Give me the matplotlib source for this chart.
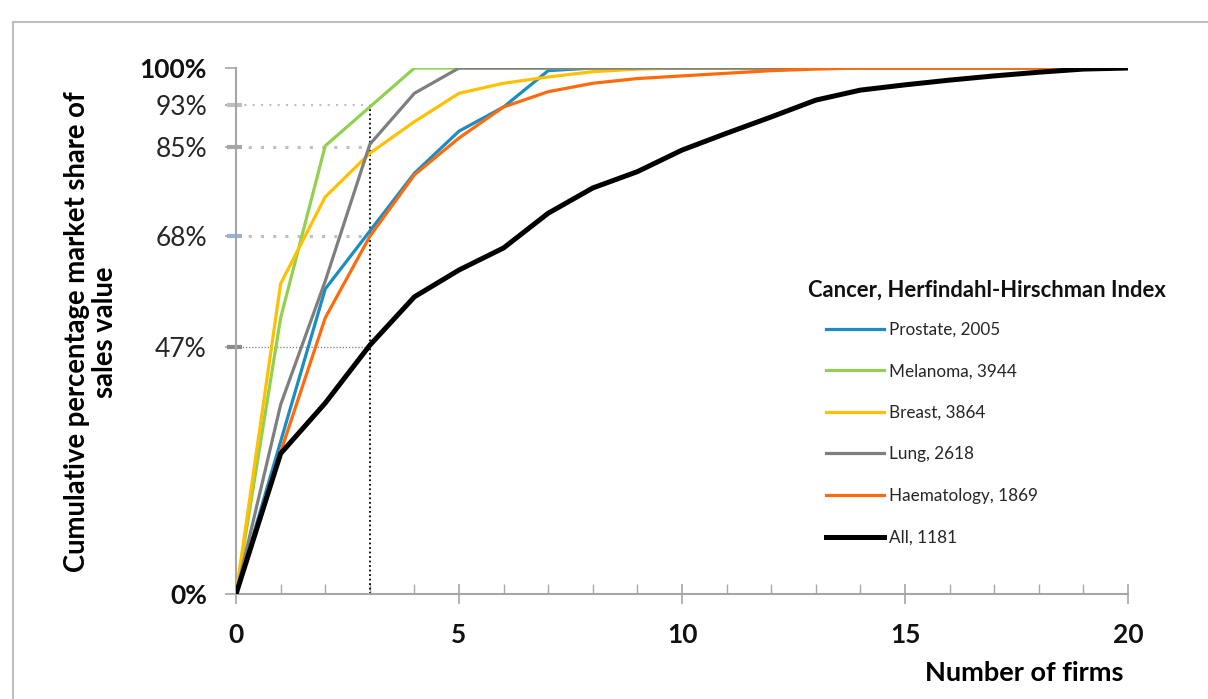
import matplotlib
matplotlib.use('Agg')
import matplotlib.pyplot as plt
from matplotlib.lines import Line2D
from matplotlib.ticker import MultipleLocator
from matplotlib.transforms import blended_transform_factory

plt.rcParams['font.family'] = ['Lato', 'DejaVu Sans']

firms = list(range(0, 21))
prostate = [0, 29, 58, 69, 80, 88, 92.6, 99.5, 100, 100, 100, 100, 100, 100, 100, 100, 100, 100, 100, 100, 100]
melanoma = [0, 52.5, 85.2, 92.6, 100, 100, 100, 100, 100, 100, 100, 100, 100, 100, 100, 100, 100, 100, 100, 100, 100]
breast = [0, 59, 75.5, 83.8, 89.8, 95.2, 97.1, 98.3, 99.3, 99.8, 100, 100, 100, 100, 100, 100, 100, 100, 100, 100, 100]
lung = [0, 36, 59.5, 85.5, 95.2, 100, 100, 100, 100, 100, 100, 100, 100, 100, 100, 100, 100, 100, 100, 100, 100]
haem = [0, 27, 52.5, 68, 79.7, 86.7, 92.6, 95.5, 97.1, 98, 98.5, 99, 99.5, 99.8, 100, 100, 100, 100, 100, 100, 100]
all_firms = [0, 26.7, 36.3, 47.3, 56.5, 61.6, 65.8, 72.4, 77.2, 80.3, 84.4, 87.6, 90.7, 93.9, 95.8, 96.8, 97.7, 98.5, 99.2, 99.8, 100]

series = [
    ('Prostate, 2005', prostate, '#1A8DC2', 2.3),
    ('Melanoma, 3944', melanoma, '#92D050', 2.3),
    ('Breast, 3864', breast, '#FFC000', 2.3),
    ('Lung, 2618', lung, '#7F7F7F', 2.3),
    ('Haematology, 1869', haem, '#FF6A0D', 2.3),
    ('All, 1181', all_firms, '#000000', 3.6),
]

ytick_vals = [0, 47, 68, 85, 93, 100]
ytick_labels = ['0%', '47%', '68%', '85%', '93%', '100%']

fig = plt.figure(figsize=(12.08, 6.99), dpi=100)
ax = fig.add_axes([0.1954, 0.1502, 0.7384, 0.7525])

for i, (name, vals, col, lw) in enumerate(series):
    ax.plot(firms, vals, color=col, lw=lw, label=name, zorder=3 + i,
            solid_joinstyle='miter')

# guide lines at x = 3 firms
ax.plot([0, 3], [93, 93], color='#BFBFBF', lw=1.5, ls=(0, (1, 3)), zorder=1)
ax.plot([0, 3], [85, 85], color='#BFBFBF', lw=2.2, ls=(0, (1, 3)), zorder=1)
ax.plot([0, 3], [68, 68], color='#BFBFBF', lw=2.2, ls=(0, (1, 3)), zorder=1)
ax.plot([0, 3], [47, 47], color='#7F7F7F', lw=0.9, ls=(0, (1, 1.5)), zorder=1)
ax.plot([3, 3], [0, 93], color='#000000', lw=1.3, ls=(0, (1, 1.5)), zorder=2)

# thick coloured markers on the y axis
trans = blended_transform_factory(ax.transAxes, ax.transData)
for yv, c in zip([93, 85, 68, 47], ['#BFBFBF', '#A6A6A6', '#95B3D7', '#8C8C8C']):
    ax.plot([-0.0105, 0.007], [yv, yv], color=c, lw=3, transform=trans,
            clip_on=False, zorder=2, solid_capstyle='butt')

ax.set_xlim(0, 20)
ax.set_ylim(0, 100)
ax.set_yticks(ytick_vals)
ax.set_yticklabels(ytick_labels)
ax.set_xticks([0, 5, 10, 15, 20])
ax.xaxis.set_minor_locator(MultipleLocator(1))

for s in ['top', 'right']:
    ax.spines[s].set_visible(False)
for s in ['left', 'bottom']:
    ax.spines[s].set_color('#A6A6A6')
    ax.spines[s].set_linewidth(1.5)

ax.tick_params(axis='x', which='major', direction='inout', length=14, width=1.2,
               color='#A6A6A6', labelsize=19, pad=14)
ax.tick_params(axis='x', which='minor', direction='in', length=7, width=1.0,
               color='#A6A6A6')
ax.tick_params(axis='y', which='major', direction='out', length=8, width=1.2,
               color='#A6A6A6', labelsize=19, pad=13)
for lab in ax.get_xticklabels():
    lab.set_fontweight('bold')
    lab.set_color('#111111')

for tk, lab in zip(ax.yaxis.get_major_ticks(), ytick_labels):
    if lab in ('0%', '100%'):
        tk.label1.set_fontweight('bold')
        tk.label1.set_color('#111111')
    else:
        tk.label1.set_color('#262626')

leg = ax.legend(loc='upper left', bbox_to_anchor=(0.661, 0.518), frameon=False,
                fontsize=12.3, handlelength=3.4, handletextpad=0.3,
                labelspacing=1.5, borderaxespad=0, borderpad=0)
for t in leg.get_texts():
    t.set_color('#262626')
fig.text(0.6689, 0.585, 'Cancer, Herfindahl-Hirschman Index', ha='left',
         va='center', fontsize=15.8, fontweight='bold', color='#111111')

fig.text(0.0755, 0.525, 'Cumulative percentage market share of\nsales value',
         rotation=90, ha='center', va='center', fontsize=19.8, fontweight='bold',
         multialignment='center', linespacing=1.1)
fig.text(0.848, 0.037, 'Number of firms', ha='center', va='center',
         fontsize=19.5, fontweight='bold')

# frame of the chart area
fig.add_artist(Line2D([0.0108, 1.0], [0.9685, 0.9685], color='#BFBFBF', lw=1.5,
                      transform=fig.transFigure))
fig.add_artist(Line2D([0.0108, 0.0108], [0.0, 0.9685], color='#BFBFBF', lw=1.5,
                      transform=fig.transFigure))

fig.savefig('out.png', dpi=100)
